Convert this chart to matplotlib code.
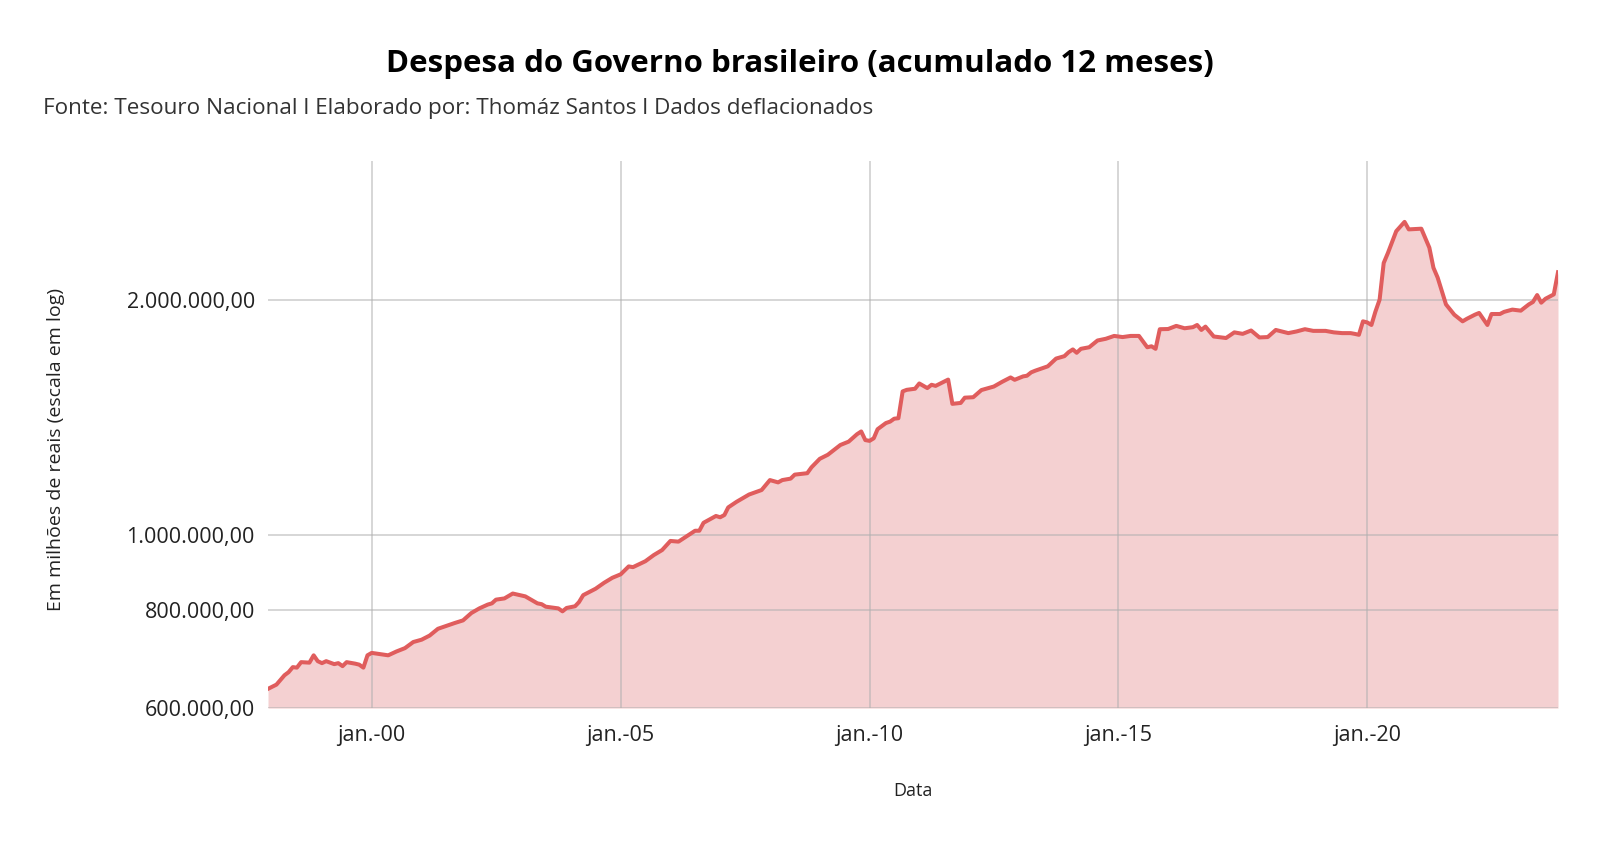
import pandas as pd
import numpy as np
import matplotlib.pyplot as plt
import matplotlib.ticker as mticker
import matplotlib.dates as mdates

plt.rcParams['font.family'] = ['Open Sans', 'DejaVu Sans']

# ---- dados (milhares -> em milhoes de reais) ----
datas = ['1997-12', '1998-02', '1998-04', '1998-05', '1998-06', '1998-07', '1998-08', '1998-10',
         '1998-11', '1998-12', '1999-01', '1999-02', '1999-04', '1999-05', '1999-06', '1999-07',
         '1999-09', '1999-10', '1999-11', '1999-12', '2000-01', '2000-05', '2000-07', '2000-09',
         '2000-11', '2001-01', '2001-03', '2001-05', '2001-09', '2001-11', '2002-01', '2002-03',
         '2002-05', '2002-06', '2002-07', '2002-09', '2002-11', '2003-02', '2003-05', '2003-06',
         '2003-07', '2003-10', '2003-11', '2003-12', '2004-02', '2004-03', '2004-04', '2004-07',
         '2004-09', '2004-11', '2005-01', '2005-03', '2005-04', '2005-07', '2005-09', '2005-11',
         '2006-01', '2006-03', '2006-05', '2006-07', '2006-08', '2006-09', '2006-12', '2007-01',
         '2007-02', '2007-03', '2007-05', '2007-08', '2007-11', '2008-01', '2008-03', '2008-04',
         '2008-06', '2008-07', '2008-10', '2008-11', '2009-01', '2009-03', '2009-06', '2009-08',
         '2009-10', '2009-11', '2009-12', '2010-01', '2010-02', '2010-03', '2010-05', '2010-06',
         '2010-07', '2010-08', '2010-09', '2010-10', '2010-12', '2011-01', '2011-03', '2011-04',
         '2011-05', '2011-08', '2011-09', '2011-11', '2011-12', '2012-02', '2012-04', '2012-07',
         '2012-09', '2012-11', '2012-12', '2013-02', '2013-03', '2013-04', '2013-05', '2013-08',
         '2013-10', '2013-12', '2014-01', '2014-02', '2014-03', '2014-04', '2014-06', '2014-08',
         '2014-10', '2014-12', '2015-02', '2015-04', '2015-06', '2015-08', '2015-09', '2015-10',
         '2015-11', '2016-01', '2016-03', '2016-05', '2016-07', '2016-08', '2016-09', '2016-10',
         '2016-12', '2017-03', '2017-05', '2017-07', '2017-09', '2017-11', '2018-01', '2018-03',
         '2018-06', '2018-08', '2018-10', '2018-12', '2019-03', '2019-05', '2019-07', '2019-09',
         '2019-10', '2019-11', '2019-12', '2020-01', '2020-02', '2020-03', '2020-04', '2020-05',
         '2020-06', '2020-08', '2020-10', '2020-11', '2021-02', '2021-04', '2021-05', '2021-06',
         '2021-08', '2021-10', '2021-12', '2022-01', '2022-03', '2022-04', '2022-06', '2022-07',
         '2022-09', '2022-10', '2022-12', '2023-02', '2023-04', '2023-05', '2023-06', '2023-07',
         '2023-08', '2023-10', '2023-11']

despesa_mil = [635, 643, 661, 667, 677, 676, 687, 686,
               701, 689, 685, 689, 683, 685, 679, 687,
               684, 682, 676, 701, 706, 701, 709, 716,
               729, 734, 743, 758, 771, 777, 794, 805,
               814, 817, 826, 829, 841, 834, 817, 815,
               809, 805, 798, 806, 810, 820, 837, 853,
               868, 881, 890, 911, 909, 925, 942, 956,
               982, 980, 996, 1012, 1012, 1036, 1057, 1053,
               1060, 1084, 1102, 1126, 1141, 1175, 1167, 1175,
               1180, 1194, 1199, 1220, 1251, 1266, 1303, 1316,
               1345, 1356, 1322, 1319, 1329, 1365, 1390, 1396,
               1408, 1410, 1526, 1533, 1538, 1562, 1541, 1556,
               1551, 1580, 1471, 1475, 1498, 1500, 1532, 1548,
               1570, 1590, 1579, 1595, 1598, 1614, 1622, 1643,
               1681, 1693, 1713, 1727, 1710, 1730, 1738, 1773,
               1782, 1797, 1791, 1797, 1797, 1738, 1743, 1730,
               1833, 1834, 1851, 1838, 1844, 1856, 1829, 1847,
               1794, 1786, 1816, 1808, 1826, 1789, 1791, 1829,
               1812, 1821, 1833, 1824, 1824, 1816, 1812, 1812,
               1808, 1803, 1876, 1870, 1856, 1930, 2000, 2228,
               2295, 2447, 2515, 2460, 2465, 2331, 2197, 2134,
               1972, 1913, 1876, 1890, 1913, 1923, 1856, 1917,
               1917, 1929, 1942, 1936, 1972, 1986, 2027, 1982,
               2005, 2031, 2168]

y_ticks = [600000, 800000, 1000000, 2000000]
x_ticks = ['2000-01', '2005-01', '2010-01', '2015-01', '2020-01']

df = pd.DataFrame({'data': pd.to_datetime(datas), 'despesa': np.array(despesa_mil) * 1000})

# ---- grafico ----
fig = plt.figure(figsize=(16, 8.47), dpi=100)
ax = fig.add_axes([0.1675, 0.164, 0.80625, 0.646])

linha = '#e05d5d'
ax.fill_between(df['data'], df['despesa'], 600000, color='#f4d0d1', lw=0, zorder=1)
ax.plot(df['data'], df['despesa'], color=linha, lw=2.9, zorder=3, solid_joinstyle='round')

ax.set_yscale('log')
ax.set_ylim(600000, 3010000)
ax.set_xlim(df['data'].iloc[0], df['data'].iloc[-1])

ax.yaxis.set_major_locator(mticker.FixedLocator(y_ticks))
ax.yaxis.set_minor_locator(mticker.NullLocator())
ax.yaxis.set_major_formatter(mticker.FuncFormatter(
    lambda v, p: f'{v:,.2f}'.replace(',', 'X').replace('.', ',').replace('X', '.')))

ax.set_xticks(pd.to_datetime(x_ticks))
ax.xaxis.set_major_formatter(mticker.FuncFormatter(
    lambda v, p: 'jan.-' + mdates.num2date(v).strftime('%y')))

ax.grid(True, color='#b0b0b0', alpha=0.6, lw=1.2, zorder=2)
ax.set_axisbelow(False)
for s in ax.spines.values():
    s.set_visible(False)
ax.tick_params(length=0, labelsize=15.5, colors='#222222')
ax.tick_params(axis='y', pad=9.5)
ax.tick_params(axis='x', pad=12)

ax.set_ylabel('Em milhões de reais (escala em log)', fontsize=14, color='#222222')
ax.yaxis.set_label_coords(-0.157, 0.4735)
ax.set_xlabel('Data', fontsize=13, color='#222222', labelpad=26)

fig.text(0.5, 0.925, 'Despesa do Governo brasileiro (acumulado 12 meses)', ha='center', va='center',
         fontsize=22.5, fontweight='bold', color='black')
fig.text(0.027, 0.872, 'Fonte: Tesouro Nacional l Elaborado por: Thomáz Santos l Dados deflacionados',
         ha='left', va='center', fontsize=16.2, color='#333333')

fig.savefig('out.png', dpi=100)
